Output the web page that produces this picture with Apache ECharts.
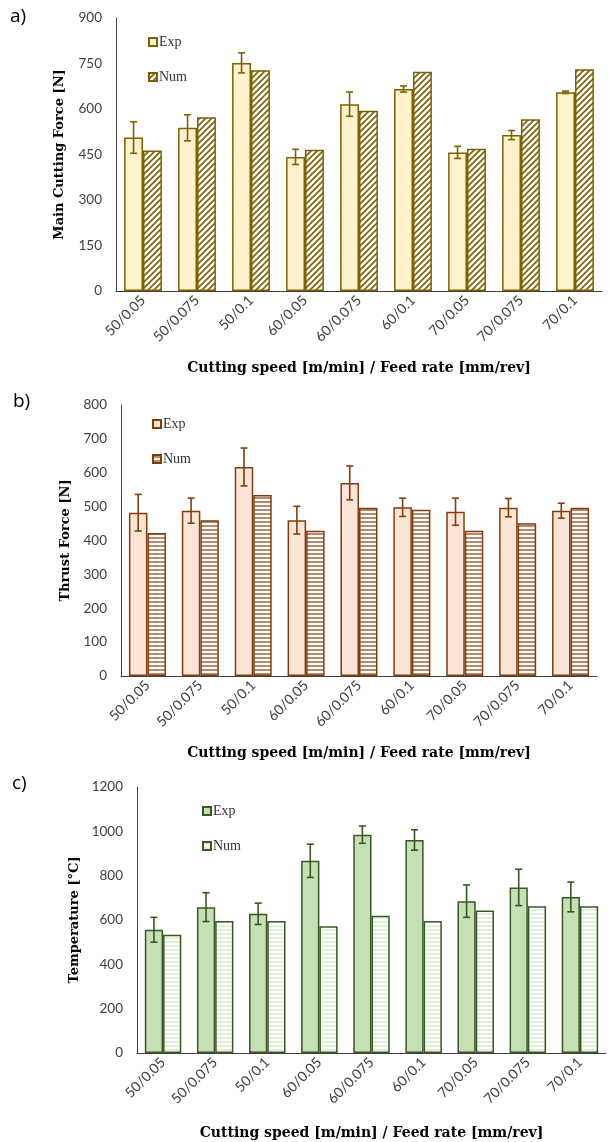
<!DOCTYPE html>
<html><head><meta charset="utf-8">
<script src="https://cdn.jsdelivr.net/npm/echarts@6/dist/echarts.min.js"></script>
<style>html,body{margin:0;padding:0;background:#fff}#c{width:609px;height:1142px}</style>
</head><body><div id="c"></div>
<script>
const categories = ['50/0.05','50/0.075','50/0.1','60/0.05','60/0.075','60/0.1','70/0.05','70/0.075','70/0.1'];
// a) Main cutting force [N]
const forceExp = [506, 538, 752, 442, 616, 666, 457, 514, 655];
const forceExpErr = [52, 43, 33, 25, 40, 10, 20, 15, 4];
const forceNum = [463, 573, 728, 466, 594, 723, 469, 566, 731];
// b) Thrust force [N]
const thrustExp = [482, 488, 617, 460, 570, 498, 485, 497, 488];
const thrustExpErr = [54, 37, 56, 41, 50, 27, 40, 27, 22];
const thrustNum = [422, 460, 534, 429, 497, 491, 429, 451, 497];
// c) Temperature [°C]
const tempExp = [556, 658, 628, 867, 985, 961, 685, 747, 704];
const tempExpErr = [56, 65, 48, 75, 39, 46, 73, 82, 67];
const tempNum = [534, 595, 595, 572, 619, 595, 643, 662, 662];
const yTicksA = [0, 900, 150], yTicksB = [0, 800, 100], yTicksC = [0, 1200, 200];

function pattern(kind, line, bg, step, lw) {
  const c = document.createElement('canvas');
  c.width = step; c.height = step;
  const g = c.getContext('2d');
  g.fillStyle = bg; g.fillRect(0, 0, step, step);
  g.strokeStyle = line; g.lineWidth = lw;
  g.beginPath();
  if (kind === 'diag') {
    g.moveTo(-1, step + 1); g.lineTo(step + 1, -1);
    g.moveTo(-1, 1); g.lineTo(1, -1);
    g.moveTo(step - 1, step + 1); g.lineTo(step + 1, step - 1);
  } else {
    g.moveTo(0, step / 2); g.lineTo(step, step / 2);
  }
  g.stroke();
  return { image: c, repeat: 'repeat' };
}

const BAR = 0.35;
const sans = 'Lato', serif = 'Liberation Serif', bserif = 'DejaVu Serif';
const panels = [
  { exp: forceExp, err: forceExpErr, num: forceNum, ticks: yTicksA, name: 'Main Cutting Force [N]',
    grid: { left: 116, top: 18, width: 486, height: 273 }, stroke: '#7F6000', fill: '#FFF2CC',
    numFill: pattern('diag', '#7F6000', '#ffffff', 6, 1.6), legend: { left: 143, top: 30, itemGap: 21 }, yGap: 50, xGap: 70, label: 'a)', ly: 18, lx: 10 },
  { exp: thrustExp, err: thrustExpErr, num: thrustNum, ticks: yTicksB, name: 'Thrust Force [N]',
    grid: { left: 121, top: 405, width: 476, height: 271 }, stroke: '#843C0C', fill: '#FBE5D6',
    numFill: pattern('horiz', '#843C0C', '#ffffff', 4, 1.2), legend: { left: 147, top: 412, itemGap: 21 }, yGap: 48, xGap: 70, label: 'b)', ly: 403, lx: 13 },
  { exp: tempExp, err: tempExpErr, num: tempNum, ticks: yTicksC, name: 'Temperature [°C]',
    grid: { left: 137, top: 787, width: 469, height: 266 }, stroke: '#385723', fill: '#C5E0B4',
    numFill: pattern('horiz', '#C5E0B4', '#ffffff', 4, 1), legend: { left: 197, top: 799, itemGap: 21 }, yGap: 48, xGap: 73, label: 'c)', ly: 785, lx: 12 }
];

const option = { animation: false, grid: [], xAxis: [], yAxis: [], series: [], legend: [], graphic: [] };
panels.forEach((p, i) => {
  option.grid.push(p.grid);
  option.xAxis.push({
    type: 'category', gridIndex: i, data: categories,
    axisLine: { lineStyle: { color: '#404040', width: 1 } }, axisTick: { show: false },
    axisLabel: { rotate: 45, interval: 0, fontFamily: sans, fontSize: 14, color: '#404040', margin: 7 },
    name: 'Cutting speed [m/min] / Feed rate [mm/rev]', nameLocation: 'middle', nameGap: p.xGap,
    nameTextStyle: { fontFamily: bserif, fontWeight: 'bold', fontSize: 14, color: '#000' }
  });
  option.yAxis.push({
    type: 'value', gridIndex: i, min: p.ticks[0], max: p.ticks[1], interval: p.ticks[2],
    axisLine: { show: true, lineStyle: { color: '#404040', width: 1 } }, axisTick: { show: false },
    splitLine: { show: false },
    axisLabel: { fontFamily: sans, fontSize: 13.5, color: '#404040', margin: 14, formatter: v => String(v) },
    name: p.name, nameLocation: 'middle', nameGap: p.yGap,
    nameTextStyle: { fontFamily: bserif, fontWeight: 'bold', fontSize: 13, color: '#000' }
  });
  const common = { type: 'bar', xAxisIndex: i, yAxisIndex: i, barWidth: (BAR * 100) + '%', barGap: '0%' };
  option.series.push(Object.assign({ name: 'Exp' + i, data: p.exp,
    itemStyle: { color: p.fill, borderColor: p.stroke, borderWidth: 1.5 } }, common));
  option.series.push(Object.assign({ name: 'Num' + i, data: p.num,
    itemStyle: { color: p.numFill, borderColor: p.stroke, borderWidth: 1.5 } }, common));
  option.series.push({
    type: 'custom', xAxisIndex: i, yAxisIndex: i, z: 10,
    data: p.exp.map((v, k) => [k, v, p.err[k]]),
    renderItem: function (params, api) {
      const x = api.value(0), v = api.value(1), e = api.value(2);
      const band = api.size([1, 0])[0];
      const cx = api.coord([x, v])[0] - band * BAR / 2;
      const t = api.coord([x, v + e])[1], b = api.coord([x, v - e])[1];
      const st = { stroke: p.stroke, lineWidth: 1.6 };
      return { type: 'group', children: [
        { type: 'line', shape: { x1: cx, y1: t, x2: cx, y2: b }, style: st },
        { type: 'line', shape: { x1: cx - 3.5, y1: t, x2: cx + 3.5, y2: t }, style: st },
        { type: 'line', shape: { x1: cx - 3.5, y1: b, x2: cx + 3.5, y2: b }, style: st }
      ] };
    }
  });
  option.legend.push(Object.assign({
    orient: 'vertical', data: ['Exp' + i, 'Num' + i], itemWidth: 8, itemHeight: 8, icon: 'rect',
    formatter: n => n.replace(/\d/, ''),
    textStyle: { fontFamily: serif, fontSize: 14, color: '#333', padding: [0, 0, 0, -3] },
    selectedMode: false
  }, p.legend));
  option.graphic.push({ type: 'text', left: p.lx, top: p.ly - 11,
    style: { text: p.label, font: '19px "Open Sans"', fill: '#000' } });
});
const chart = echarts.init(document.getElementById('c'));
chart.setOption(option);
</script></body></html>
